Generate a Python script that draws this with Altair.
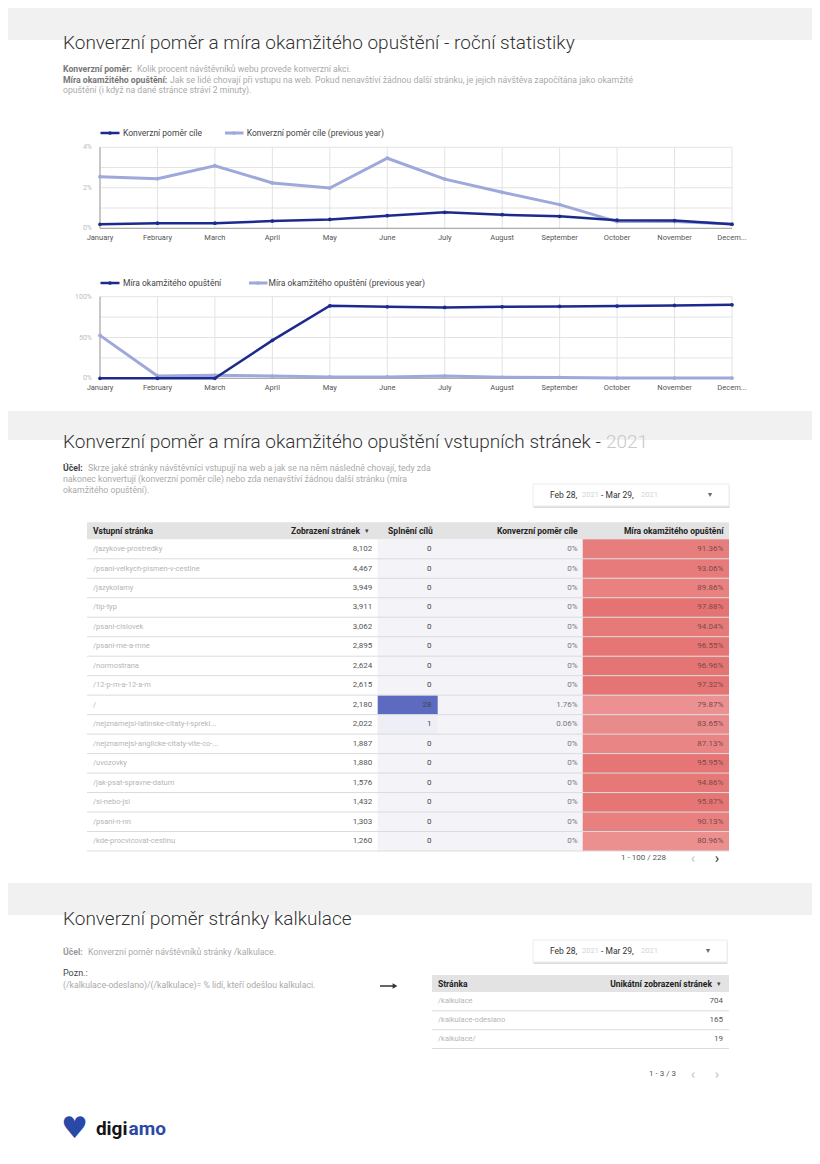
import altair as alt
import pandas as pd

FONT = "Roboto"
DARK = "#1c2a8e"
LIGHT = "#9fa8da"

# ---------------- data ----------------
months = ["January", "February", "March", "April", "May", "June", "July",
          "August", "September", "October", "November", "December"]
month_labels = ["January", "February", "March", "April", "May", "June", "July",
                "August", "September", "October", "November", "Decem..."]

conv_cur = [0.20, 0.25, 0.25, 0.36, 0.44, 0.62, 0.79, 0.67, 0.59, 0.40, 0.38, 0.20]
conv_prev = [2.55, 2.45, 3.09, 2.24, 1.99, 3.46, 2.43, 1.78, 1.17, 0.33, 0.33, 0.21]
conv_ticks = [0, 1, 2, 3, 4]
conv_tick_labels = ["0%", "", "2%", "", "4%"]

bounce_cur = [0, 0, 0, 46.5, 88.9, 87.6, 86.9, 87.6, 88.1, 88.5, 89.3, 90.1]
bounce_prev = [52.6, 2.8, 3.7, 2.8, 1.6, 1.6, 2.8, 1.2, 1.0, 0.3, 0.3, 0.3]
bounce_ticks = [0, 25, 50, 75, 100]
bounce_tick_labels = ["0%", "", "50%", "", "100%"]

pages = ["/jazykove-prostredky", "/psani-velkych-pismen-v-cestine", "/jazykolamy",
         "/tip-typ", "/psani-cislovek", "/psani-me-a-mne", "/normostrana",
         "/12-p-m-a-12-a-m", "/", "/nejznamejsi-latinske-citaty-i-sprekl...",
         "/nejznamejsi-anglicke-citaty-vite-co-...", "/uvozovky",
         "/jak-psat-spravne-datum", "/si-nebo-jsi", "/psani-n-nn",
         "/kde-procvicovat-cestinu"]
views = [8102, 4467, 3949, 3911, 3062, 2895, 2624, 2615, 2180, 2022, 1887, 1880,
         1576, 1432, 1303, 1260]
goals = [0, 0, 0, 0, 0, 0, 0, 0, 28, 1, 0, 0, 0, 0, 0, 0]
conv_rate = [0, 0, 0, 0, 0, 0, 0, 0, 1.76, 0.06, 0, 0, 0, 0, 0, 0]
bounce_rate = [91.36, 93.06, 89.86, 97.88, 94.04, 96.55, 96.96, 97.32, 79.87,
               83.65, 87.13, 95.95, 94.86, 95.87, 90.13, 80.96]

calc_pages = ["/kalkulace", "/kalkulace-odeslano", "/kalkulace/"]
calc_views = [704, 165, 19]


# ---------------- helpers (page coordinates -> chart coordinates) ----------------
def X(v):
    return v - 8


def Y(v):
    return v - 8


ONE = pd.DataFrame({"k": [0]})
DS = 8.7  # description text size


def label(s, x, y, size=8, color="#444", weight="normal", align="left",
          baseline="middle", font=FONT):
    return alt.Chart(ONE).mark_text(align=align, baseline=baseline, fontSize=size,
                                    color=color, fontWeight=weight, font=font).encode(
        x=alt.value(X(x)), y=alt.value(Y(y)), text=alt.value(s))


def box(x0, y0, x1, y1, fill, stroke=None, sw=1, opacity=1.0):
    kw = dict(fill=fill, opacity=opacity)
    if stroke:
        kw.update(stroke=stroke, strokeWidth=sw)
    return alt.Chart(ONE).mark_rect(**kw).encode(
        x=alt.value(X(x0)), x2=alt.value(X(x1)), y=alt.value(Y(y0)), y2=alt.value(Y(y1)))


def hrule(x0, x1, y, color, sw=1.0):
    return alt.Chart(ONE).mark_rule(color=color, strokeWidth=sw).encode(
        x=alt.value(X(x0)), x2=alt.value(X(x1)), y=alt.value(Y(y)))


def dot(x, y, color, size=14, shape="circle"):
    return alt.Chart(ONE).mark_point(filled=True, color=color, size=size, shape=shape,
                                     opacity=1).encode(x=alt.value(X(x)), y=alt.value(Y(y)))


PX0, PX1 = 100, 732


def line_panel(cur, prev, name, ticks, tick_labels, ymax, top, bottom, legend_y,
               lab_y, leg2_icon, leg2_text):
    xs = alt.Scale(type="point", domain=months, range=[X(PX0), X(PX1)], padding=0)
    ys = alt.Scale(domain=[0, ymax], range=[Y(bottom), Y(top)], nice=False, zero=True)
    mdf = pd.DataFrame({"month": months, "lab": month_labels})
    tdf = pd.DataFrame({"t": ticks, "lab": tick_labels})

    def xenc():
        return alt.X("month:N", scale=xs, axis=None)

    def yenc(f):
        return alt.Y(f, scale=ys, axis=None)

    layers = []
    layers.append(alt.Chart(mdf).mark_rule(color="#e3e3e3", strokeWidth=1).encode(
        x=xenc(), y=alt.value(Y(top)), y2=alt.value(Y(bottom))))
    layers.append(alt.Chart(tdf).mark_rule(color="#e3e3e3", strokeWidth=1).encode(
        y=yenc("t:Q"), x=alt.value(X(PX0)), x2=alt.value(X(PX1))))
    layers.append(alt.Chart(mdf.head(1)).mark_rule(color="#9e9e9e", strokeWidth=1).encode(
        x=xenc(), y=alt.value(Y(top)), y2=alt.value(Y(bottom))))
    layers.append(alt.Chart(tdf.head(1)).mark_rule(color="#9e9e9e", strokeWidth=1).encode(
        y=yenc("t:Q"), x=alt.value(X(PX0)), x2=alt.value(X(PX1))))
    layers.append(alt.Chart(tdf).mark_text(align="right", baseline="middle", fontSize=7,
                                           color="#bdbdbd", font=FONT).encode(
        y=yenc("t:Q"), x=alt.value(X(92)), text="lab:N"))
    layers.append(alt.Chart(mdf).mark_text(align="center", baseline="middle", fontSize=7.5,
                                           color="#555", font=FONT).encode(
        x=xenc(), y=alt.value(Y(lab_y)), text="lab:N"))
    for vals, col, w in ((prev, LIGHT, 3.0), (cur, DARK, 2.5)):
        d = pd.DataFrame({"month": months, "v": vals, "i": list(range(12))})
        layers.append(alt.Chart(d).mark_line(
            color=col, strokeWidth=w,
            point=alt.OverlayMarkDef(color=col, size=14, filled=True, opacity=1)).encode(
            x=xenc(), y=yenc("v:Q"), order="i:Q"))
    # legend
    layers.append(hrule(100.5, 119.5, legend_y, DARK, 2.5))
    layers.append(dot(110, legend_y, DARK, 14))
    layers.append(label(name, 123, legend_y, size=8.5, color="#444"))
    layers.append(hrule(leg2_icon, leg2_icon + 18.5, legend_y, LIGHT, 3))
    layers.append(dot(leg2_icon + 9, legend_y, LIGHT, 14))
    layers.append(label(name + " (previous year)", leg2_text, legend_y, size=8.5, color="#444"))
    return layers


def date_picker(x0, y0, x1, y1):
    ym = (y0 + y1) / 2
    return [
        box(x0 + 0.5, y0 + 1.5, x1 + 0.5, y1 + 2, "#cfcfcf", opacity=0.7),
        box(x0, y0, x1, y1, "#ffffff", stroke="#ececec"),
        label("Feb 28,", x0 + 17, ym, size=8.5, color="#333"),
        label("2021", x0 + 49, ym, size=7.5, color="#d4d4d4"),
        label("- Mar 29,", x0 + 68, ym, size=8.5, color="#333"),
        label("2021", x0 + 108, ym, size=7.5, color="#d4d4d4"),
        label("▾", x1 - 19, ym, size=8, color="#666", align="center"),
    ]


# ---------------- layers ----------------
L = []

# grey header bands
L.append(box(0, 0, 820, 40, "#f1f1f1"))
L.append(box(0, 411, 820, 440, "#f1f1f1"))
L.append(box(0, 883, 820, 915, "#f1f1f1"))

# section 1
L.append(label("Konverzní poměr a míra okamžitého opuštění - roční statistiky", 63, 49,
               size=19, color="#333", weight=300, baseline="alphabetic"))
L.append(label("Konverzní poměr:", 63, 69, size=DS, color="#777", weight="bold"))
L.append(label("Kolik procent návštěvníků webu provede konverzní akci.", 137, 69,
               size=DS, color="#aaa"))
L.append(label("Míra okamžitého opuštění:", 63, 79.5, size=DS, color="#777", weight="bold"))
L.append(label("Jak se lidé chovají při vstupu na web. Pokud nenavštíví žádnou další stránku, "
               "je jejich návštěva započítána jako okamžité", 170, 79.5, size=DS, color="#aaa"))
L.append(label("opuštění (i když na dané stránce stráví 2 minuty).", 63, 90,
               size=DS, color="#aaa"))

L += line_panel(conv_cur, conv_prev, "Konverzní poměr cíle", conv_ticks, conv_tick_labels,
                4, 147.3, 228.3, 133, 238, 225, 246.7)
L += line_panel(bounce_cur, bounce_prev, "Míra okamžitého opuštění", bounce_ticks,
                bounce_tick_labels, 100, 296.7, 378.3, 283, 388, 249, 268.5)

# section 2
L.append(label("Konverzní poměr a míra okamžitého opuštění vstupních stránek -", 63, 448,
               size=19, color="#333", weight=300, baseline="alphabetic"))
L.append(label("2021", 606, 448, size=19, color="#c8c8c8", weight=300, baseline="alphabetic"))
L.append(label("Účel:", 63, 468, size=DS, color="#444", weight="bold"))
L.append(label("Skrze jaké stránky návštěvníci vstupují na web a jak se na něm následně "
               "chovají, tedy zda", 88, 468, size=DS, color="#aaa"))
L.append(label("nakonec konvertují (konverzní poměr cíle) nebo zda nenavštíví žádnou další "
               "stránku (míra", 63, 479, size=DS, color="#aaa"))
L.append(label("okamžitého opuštění).", 63, 490, size=DS, color="#aaa"))
L += date_picker(533, 484, 729, 506)

# table 1
tdf = pd.DataFrame({"page": pages, "views": views, "goals": goals,
                    "conv": conv_rate, "bounce": bounce_rate})
tdf["conv_f"] = tdf["conv"] / 100.0
tdf["bounce_f"] = tdf["bounce"] / 100.0
ys_t = alt.Scale(type="band", domain=pages, range=[Y(539.3), Y(851)],
                 paddingInner=0, paddingOuter=0)


def Yt(**kw):
    return alt.Y("page:N", scale=ys_t, axis=None, **kw)


base_t = alt.Chart(tdf)
L.append(box(87, 522.3, 729, 539.3, "#e3e3e3"))
L.append(base_t.mark_rect(fill="#f3f3f8").encode(
    y=Yt(), x=alt.value(X(377.7)), x2=alt.value(X(582.7))))
L.append(base_t.mark_rect().encode(
    y=Yt(), x=alt.value(X(377.7)), x2=alt.value(X(437.7)),
    fill=alt.Fill("goals:Q", scale=alt.Scale(domain=[0, 28], range=["#f3f3f8", "#5c6bc0"]),
                  legend=None)))
L.append(base_t.mark_rect().encode(
    y=Yt(), x=alt.value(X(582.7)), x2=alt.value(X(729)),
    fill=alt.Fill("bounce:Q", scale=alt.Scale(domain=[79.87, 97.88],
                                              range=["#eb9191", "#e57373"]), legend=None)))
L.append(base_t.mark_rule(color="#dcdcdc", strokeWidth=1).encode(
    y=Yt(bandPosition=1), x=alt.value(X(87)), x2=alt.value(X(729))))
L.append(base_t.mark_text(align="left", baseline="middle", fontSize=7.5, color="#b5b5b5",
                          font=FONT).encode(y=Yt(), x=alt.value(X(93)), text="page:N"))
L.append(base_t.mark_text(align="right", baseline="middle", fontSize=8, color="#555",
                          font=FONT).encode(y=Yt(), x=alt.value(X(372.3)),
                                            text=alt.Text("views:Q", format=",")))
L.append(base_t.mark_text(align="right", baseline="middle", fontSize=8, color="#444",
                          font=FONT).encode(y=Yt(), x=alt.value(X(431.5)),
                                            text=alt.Text("goals:Q", format="d")))
L.append(base_t.mark_text(align="right", baseline="middle", fontSize=8, color="#777",
                          font=FONT).encode(y=Yt(), x=alt.value(X(577.7)),
                                            text=alt.Text("conv_f:Q", format=".2~%")))
L.append(base_t.mark_text(align="right", baseline="middle", fontSize=8, color="#7a4a4a",
                          font=FONT).encode(y=Yt(), x=alt.value(X(723.3)),
                                            text=alt.Text("bounce_f:Q", format=".2%")))
hy = 531
L.append(label("Vstupní stránka", 93, hy, size=8.5, color="#222", weight="bold"))
L.append(label("Zobrazení stránek", 360, hy, size=8.5, color="#222", weight="bold", align="right"))
L.append(label("▾", 366.5, hy, size=7, color="#444", align="center"))
L.append(label("Splnění cílů", 432.7, hy, size=8.5, color="#222", weight="bold", align="right"))
L.append(label("Konverzní poměr cíle", 577.7, hy, size=8.5, color="#222", weight="bold",
               align="right"))
L.append(label("Míra okamžitého opuštění", 723.5, hy, size=8.5, color="#222", weight="bold",
               align="right"))
L.append(label("1 - 100 / 228", 666, 858, size=8, color="#555", align="right"))
L.append(label("‹", 693, 858, size=15, color="#c4c4c4", align="center"))
L.append(label("›", 717, 858, size=15, color="#333", align="center"))

# section 3
L.append(label("Konverzní poměr stránky kalkulace", 63, 925, size=19, color="#333",
               weight=300, baseline="alphabetic"))
L.append(label("Účel:", 63, 952, size=DS, color="#999", weight="bold"))
L.append(label("Konverzní poměr návštěvníků stránky /kalkulace.", 88, 952, size=DS,
               color="#aaa"))
L.append(label("Pozn.:", 63, 973, size=9, color="#444"))
L.append(label("(/kalkulace-odeslano)/(/kalkulace)= % lidí, kteří odešlou kalkulaci.", 63, 985,
               size=DS, color="#aaa"))
L.append(hrule(380, 393, 986, "#333", 1.5))
L.append(dot(395, 986, "#333", 30, "triangle-right"))
L += date_picker(533, 940, 727, 962)

cdf = pd.DataFrame({"page": calc_pages, "views": calc_views})
ys_c = alt.Scale(type="band", domain=calc_pages, range=[Y(992), Y(1048.5)],
                 paddingInner=0, paddingOuter=0)


def Yc(**kw):
    return alt.Y("page:N", scale=ys_c, axis=None, **kw)


base_c = alt.Chart(cdf)
L.append(box(432, 975, 729, 992, "#e3e3e3"))
L.append(base_c.mark_rule(color="#dcdcdc", strokeWidth=1).encode(
    y=Yc(bandPosition=1), x=alt.value(X(432)), x2=alt.value(X(729))))
L.append(base_c.mark_text(align="left", baseline="middle", fontSize=7.5, color="#b5b5b5",
                          font=FONT).encode(y=Yc(), x=alt.value(X(438)), text="page:N"))
L.append(base_c.mark_text(align="right", baseline="middle", fontSize=8, color="#555",
                          font=FONT).encode(y=Yc(), x=alt.value(X(723)),
                                            text=alt.Text("views:Q", format=",")))
L.append(label("Stránka", 438, 983.5, size=8.5, color="#222", weight="bold"))
L.append(label("Unikátní zobrazení stránek", 712, 983.5, size=8.5, color="#222",
               weight="bold", align="right"))
L.append(label("▾", 718.5, 983.5, size=7, color="#444", align="center"))
L.append(label("1 - 3 / 3", 676, 1074, size=8, color="#555", align="right"))
L.append(label("‹", 693, 1074, size=15, color="#c4c4c4", align="center"))
L.append(label("›", 717, 1074, size=15, color="#c4c4c4", align="center"))

# logo
L.append(label("♥", 74.5, 1129, size=30, color="#2a48a6", align="center", font="DejaVu Sans"))
L.append(label("digi", 127.5, 1129, size=19, color="#151515", weight="bold", align="right"))
L.append(label("amo", 128.5, 1129, size=19, color="#2a48a6", weight="bold"))

chart = alt.layer(*L).resolve_scale(
    x="independent", y="independent", fill="independent", color="independent"
).properties(
    width=804, height=1148, padding=0, autosize=alt.AutoSizeParams(type="none")
).configure_view(stroke=None)

chart.save("out.html", embed_options={"renderer": "svg", "actions": False})
